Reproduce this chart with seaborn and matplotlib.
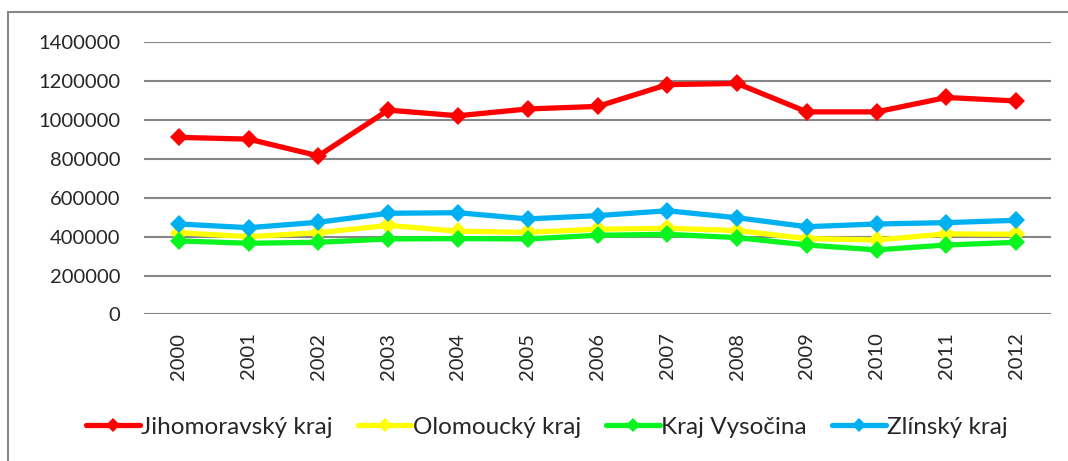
import pandas as pd
import matplotlib
matplotlib.use('Agg')
import matplotlib.pyplot as plt
import seaborn as sns
from matplotlib.patches import Rectangle

years = [str(y) for y in range(2000, 2013)]
regions = ["Jihomoravský kraj", "Olomoucký kraj", "Kraj Vysočina", "Zlínský kraj"]

jihomoravsky = [910000, 901000, 815000, 1050000, 1021000, 1056000, 1069000,
                1181000, 1187000, 1041000, 1041000, 1115000, 1097000]
olomoucky = [420000, 400000, 420000, 458000, 428000, 422000, 438000,
             443000, 431000, 390000, 383000, 414000, 412000]
vysocina = [378000, 366000, 371000, 388000, 390000, 388000, 407000,
            412000, 395000, 357000, 332000, 357000, 371000]
zlinsky = [465000, 446000, 474000, 520000, 523000, 491000, 508000,
           533000, 497000, 451000, 465000, 472000, 484000]

colors = ["#FF0000", "#FFFF00", "#0AF520", "#00B0F0"]

df = pd.DataFrame({
    "rok": years * 4,
    "hodnota": jihomoravsky + olomoucky + vysocina + zlinsky,
    "kraj": [r for r in regions for _ in years],
})
df["pos"] = df["rok"].map({y: i for i, y in enumerate(years)})

sns.set_style("white")
plt.rcParams['font.family'] = ['Lato', 'DejaVu Sans']

fig = plt.figure(figsize=(10.68, 4.61), dpi=100)
ax = fig.add_axes([0.1348, 0.3178, 0.8494, 0.5911])

sns.lineplot(data=df, x="pos", y="hodnota", hue="kraj", hue_order=regions,
             palette=colors, marker="D", markersize=9, linewidth=3.8,
             markeredgewidth=0, ax=ax, legend=True)

ax.set_xlim(-0.5, 12.5)
ax.set_ylim(0, 1400000)
ax.set_yticks(range(0, 1400001, 200000))
ax.set_yticklabels([str(v) for v in range(0, 1400001, 200000)], fontsize=14.5)
ax.set_xticks(range(len(years)))
ax.set_xticklabels(years, rotation=90, fontsize=14.5)
ax.tick_params(axis='y', length=0, pad=17)
ax.tick_params(axis='x', length=0, pad=13)
ax.yaxis.grid(True, color="#868686", linewidth=1.5)
ax.set_axisbelow(True)
for s in ax.spines.values():
    s.set_visible(False)
ax.set_xlabel("")
ax.set_ylabel("")

handles, labels = ax.get_legend_handles_labels()
ax.legend_.remove()
leg = fig.legend(handles, labels, loc="center", bbox_to_anchor=(0.512, 0.073), ncol=4,
                 frameon=False, fontsize=17.5, handlelength=2.2, handletextpad=0.05,
                 columnspacing=1.05)
# menší kosočtverce v legendě
for line in leg.get_lines():
    line.set_markersize(7)

fig.patches.append(Rectangle((8 / 1068, -0.2), 1.2, 1.2 - 12 / 461,
                             transform=fig.transFigure, fill=False,
                             edgecolor="#868686", linewidth=1.5))

fig.savefig("out.png", dpi=100)
plt.close()
